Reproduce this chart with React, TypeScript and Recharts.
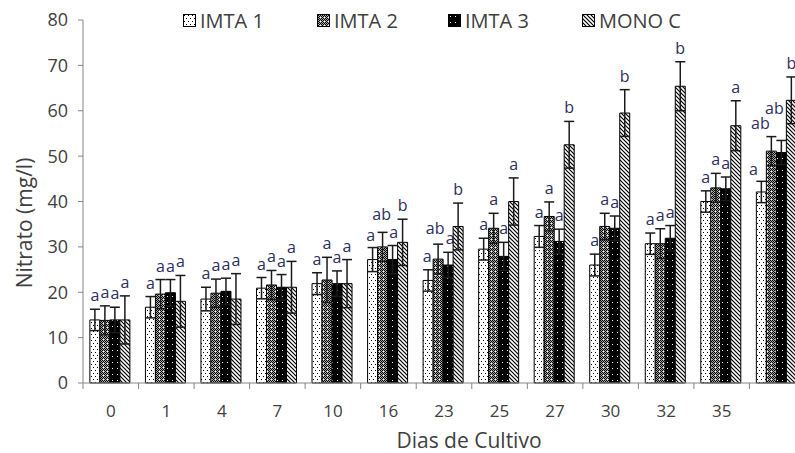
import React from 'react';
import { BarChart, Bar, XAxis, YAxis, ErrorBar, LabelList } from 'recharts';

// ---- data ----
const categories = ['0', '1', '4', '7', '10', '16', '23', '25', '27', '30', '32', '35', ''];
const seriesNames = ['IMTA 1', 'IMTA 2', 'IMTA 3', 'MONO C'];

const imta1 = [13.9, 16.7, 18.5, 20.9, 21.9, 27.2, 22.6, 29.5, 32.3, 26.0, 30.7, 40.0, 42.1];
const imta2 = [13.8, 19.6, 19.8, 21.6, 22.7, 30.0, 27.3, 34.1, 36.7, 34.5, 30.7, 43.0, 51.1];
const imta3 = [13.9, 19.9, 20.2, 21.1, 21.9, 27.2, 26.0, 27.9, 31.2, 34.1, 31.9, 42.8, 50.8];
const monoC = [13.9, 18.0, 18.5, 21.1, 21.9, 31.0, 34.5, 40.0, 52.5, 59.5, 65.4, 56.7, 62.3];

const err1 = [2.35, 2.35, 2.6, 2.35, 2.4, 2.65, 2.35, 2.4, 2.4, 2.4, 2.35, 2.35, 2.35];
const err2 = [3.2, 3.2, 3.1, 3.2, 5.0, 3.2, 3.3, 3.3, 3.2, 2.9, 3.3, 3.2, 3.2];
const err3 = [2.8, 2.9, 2.9, 2.8, 2.8, 3.1, 2.8, 3.1, 2.7, 2.7, 2.8, 2.6, 2.65];
const err4 = [5.3, 5.7, 5.6, 5.7, 5.3, 5.1, 5.15, 5.2, 5.15, 5.15, 5.4, 5.5, 5.15];

const let1 = ['a', 'a', 'a', 'a', 'a', 'a', 'a', 'a', 'a', 'a', 'a', 'a', 'a'];
const let2 = ['a', 'a', 'a', 'a', 'a', 'ab', 'ab', 'a', 'a', 'a', 'a', 'a', 'ab'];
const let3 = ['a', 'a', 'a', 'a', 'a', 'a', 'a', 'a', 'a', 'a', 'a', 'a', 'ab'];
const let4 = ['a', 'a', 'a', 'a', 'a', 'b', 'b', 'a', 'b', 'b', 'b', 'a', 'b'];

const yTicks = [0, 10, 20, 30, 40, 50, 60, 70, 80];

const data = categories.map((c, i) => ({
  dia: c,
  v1: imta1[i], e1: err1[i], l1: let1[i],
  v2: imta2[i], e2: err2[i], l2: let2[i],
  v3: imta3[i], e3: err3[i], l3: let3[i],
  v4: monoC[i], e4: err4[i], l4: let4[i],
}));

// ---- layout ----
const CHART_W = 805;
const CHART_H = 453;
const Y_AXIS_W = 83;
const BAND = (CHART_W - Y_AXIS_W) / categories.length;
const AXIS_COLOR = '#868686';
const TEXT_COLOR = '#404040';
const LETTER_COLOR = '#2d2d5e';
const FONT = '"Open Sans", "Noto Sans", sans-serif';
const patternIds = ['patI1', 'patI2', 'patI3', 'patMC'];

// label placement nudges (series index - category index) -> [dx, dy] in px
const letterNudge: Record<string, [number, number]> = {
  '0-5': [-2, 1],
  '1-5': [-1, -4],
  '2-5': [1, 0],
  '0-6': [-1, 0],
  '1-6': [-3, -2],
  '2-6': [2, 0],
  '0-12': [-8, 2],
  '1-12': [-11, 0],
  '2-12': [-7, -18],
};

const makeLetter = (si: number, vals: number[], errs: number[]) => (props: any) => {
  const vb = props.viewBox || {};
  const x = Number(props.x ?? vb.x);
  const y = Number(props.y ?? vb.y);
  const w = Number(props.width ?? vb.width);
  const h = Number(props.height ?? vb.height);
  const idx = props.index;
  const v = vals[idx];
  const e = errs[idx];
  if (!isFinite(x) || !isFinite(y) || !v) return null;
  const k = h / v;
  const capY = y - e * k;
  const [dx, dy] = letterNudge[`${si}-${idx}`] || [0, 0];
  return (
    <text x={x + w / 2 + dx} y={capY - 8 + dy} textAnchor="middle" fontFamily={FONT} fontSize={16} fill={LETTER_COLOR}>
      {props.value}
    </text>
  );
};

const CatTick = (props: any) => {
  const { x, y, payload } = props;
  const axisY = y - 6 - 16;
  const bx = x - BAND / 2;
  return (
    <g>
      <line x1={bx} x2={bx} y1={axisY} y2={axisY + 6} stroke={AXIS_COLOR} />
      <text x={x} y={y} dy="0.71em" textAnchor="middle" fontFamily={FONT} fontSize={17} fill={TEXT_COLOR}>
        {payload.value}
      </text>
    </g>
  );
};

const YLabel = () => (
  <text
    x={24}
    y={223}
    transform="rotate(-90, 24, 223)"
    textAnchor="middle"
    dominantBaseline="central"
    fontFamily={FONT}
    fontSize={21}
    fill={TEXT_COLOR}
  >
    Nitrato (mg/l)
  </text>
);

const XLabel = () => (
  <text x={469} y={448} textAnchor="middle" fontFamily={FONT} fontSize={21} fill={TEXT_COLOR}>
    Dias de Cultivo
  </text>
);

const Patterns = () => (
  <defs>
    <pattern id="patI1" width="4" height="6" patternUnits="userSpaceOnUse">
      <rect width="4" height="6" fill="#ffffff" />
      <rect x="1" y="1" width="1" height="1" fill="#000" />
      <rect x="3" y="4" width="1" height="1" fill="#000" />
    </pattern>
    <pattern id="patI2" width="4" height="4" patternUnits="userSpaceOnUse">
      <rect width="4" height="4" fill="#a8a8a8" />
      <rect x="0" y="0" width="1" height="1" fill="#000" />
      <rect x="2" y="0" width="1" height="1" fill="#000" />
      <rect x="1" y="1" width="1" height="1" fill="#000" />
      <rect x="3" y="1" width="1" height="1" fill="#000" />
      <rect x="0" y="2" width="1" height="1" fill="#000" />
      <rect x="2" y="2" width="1" height="1" fill="#000" />
      <rect x="1" y="3" width="1" height="1" fill="#000" />
      <rect x="3" y="3" width="1" height="1" fill="#ffffff" />
    </pattern>
    <pattern id="patI3" width="5" height="6" patternUnits="userSpaceOnUse">
      <rect width="5" height="6" fill="#000" />
      <rect x="2" y="2" width="1" height="1" fill="#ffffff" />
    </pattern>
    <pattern id="patMC" width="4" height="4" patternUnits="userSpaceOnUse">
      <rect width="4" height="4" fill="#ffffff" />
      <path d="M0,0 L4,4 M-1,3 L1,5 M3,-1 L5,1" stroke="#000" strokeWidth="1.2" />
    </pattern>
  </defs>
);

const legendX = [183, 317, 448, 582];

export default function App() {
  const series = [
    { v: 'v1', e: 'e1', l: 'l1', vals: imta1, errs: err1 },
    { v: 'v2', e: 'e2', l: 'l2', vals: imta2, errs: err2 },
    { v: 'v3', e: 'e3', l: 'l3', vals: imta3, errs: err3 },
    { v: 'v4', e: 'e4', l: 'l4', vals: monoC, errs: err4 },
  ];
  return (
    <div style={{ position: 'fixed', left: 0, top: 0, width: 795, height: 453, overflow: 'hidden', background: '#fff' }}>
      <BarChart
        width={CHART_W}
        height={CHART_H}
        data={data}
        margin={{ top: 20, right: 0, bottom: 0, left: 0 }}
        barCategoryGap="12.4%"
        barGap={0}
      >
        <Patterns />
        <XAxis
          dataKey="dia"
          height={70}
          interval={0}
          tickLine={false}
          tickSize={6}
          tickMargin={16}
          axisLine={{ stroke: AXIS_COLOR }}
          tick={<CatTick />}
          label={<XLabel />}
        />
        <YAxis
          width={Y_AXIS_W}
          domain={[0, 80]}
          ticks={yTicks}
          interval={0}
          tickSize={5}
          tickMargin={10}
          axisLine={{ stroke: AXIS_COLOR }}
          tickLine={{ stroke: AXIS_COLOR }}
          tick={{ fill: TEXT_COLOR, fontSize: 18, fontFamily: FONT }}
          label={<YLabel />}
        />
        {series.map((s, i) => (
          <Bar
            key={s.v}
            dataKey={s.v}
            name={seriesNames[i]}
            fill={`url(#${patternIds[i]})`}
            stroke="#000"
            strokeWidth={1}
            isAnimationActive={false}
          >
            <ErrorBar dataKey={s.e} width={5} stroke="#1a1a1a" strokeWidth={1.5} direction="y" isAnimationActive={false} />
            <LabelList dataKey={s.l} content={makeLetter(i, s.vals, s.errs)} />
          </Bar>
        ))}
      </BarChart>
      {seriesNames.map((n, i) => (
        <div
          key={n}
          style={{
            position: 'absolute',
            left: legendX[i],
            top: 8,
            height: 24,
            display: 'flex',
            alignItems: 'center',
            fontFamily: FONT,
            fontSize: 20,
            color: TEXT_COLOR,
            whiteSpace: 'nowrap',
          }}
        >
          <svg width={13} height={13} style={{ marginRight: 4 }}>
            <rect x={0.5} y={0.5} width={12} height={12} fill={`url(#${patternIds[i]})`} stroke="#000" />
          </svg>
          {n}
        </div>
      ))}
    </div>
  );
}
